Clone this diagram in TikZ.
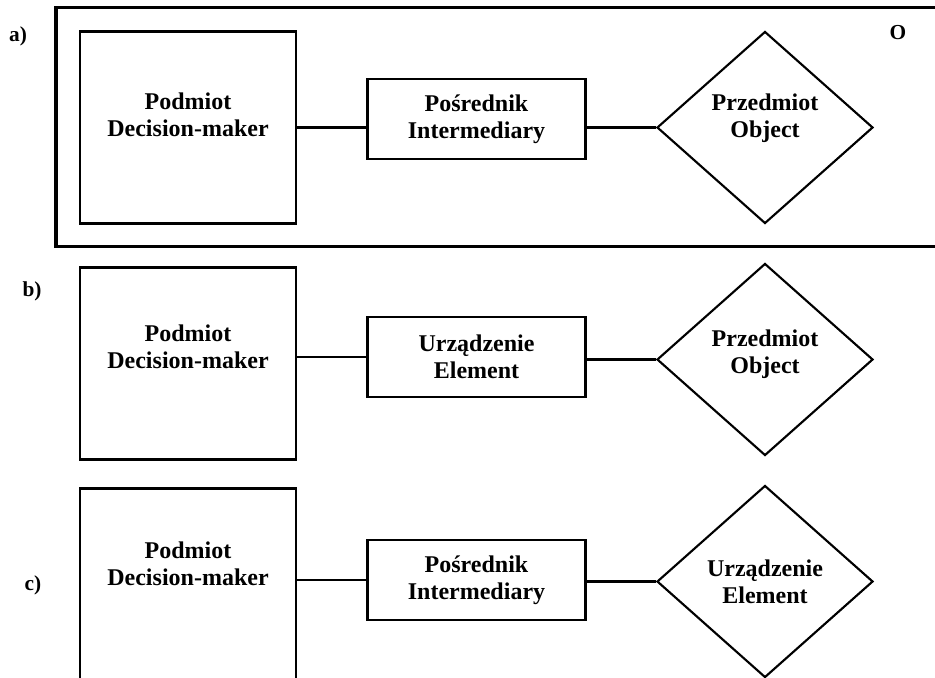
\documentclass[tikz,border=0pt]{standalone}
\usepackage{fontspec}
\setmainfont{Liberation Serif}
\usetikzlibrary{arrows,shapes,positioning}
\begin{document}
\begin{tikzpicture}[x=0.75pt,y=0.75pt]
                    \tikzstyle{every node}+=[inner sep=0pt]
                    \tikzstyle{podmiot}=[draw, line width=2.2pt, minimum width=162pt, minimum height=144pt]
                    \tikzstyle{posrednik}=[draw, line width=2.2pt, minimum width=164pt, minimum height=60pt, align=center, font=\fontsize{18}{20.25}\selectfont\bfseries]
                    \tikzstyle{przedmiot}=[draw, diamond, line width=1.6pt, minimum width=162pt, minimum height=144pt]
                    \tikzstyle{napis}=[align=center, font=\fontsize{18}{20.25}\selectfont\bfseries]
                    \tikzstyle{litera}=[font=\fontsize{16}{18}\selectfont\bfseries]
                    \tikzstyle{linia}=[line width=2.2pt]
                    \useasboundingbox (0,0) rectangle (935,-678);
                    % a)
                    \draw [line width=2.4pt] (56,-7.5) rectangle (940,-246.5);
                    \node [litera] (la) at (18,-36) {a)};
                    \node [litera] (lo) at (898,-32.5) {O};
                    \node [podmiot, label={[napis,yshift=9.4pt]center:{Podmiot\\Decision-maker}}] (pa) at (188,-127.5) {};
                    \node [posrednik] (ia) at (476.5,-119) {Pośrednik\\Intermediary};
                    \node [przedmiot, label={[napis,yshift=7.1pt]center:{Przedmiot\\Object}}] (da) at (765,-127.5) {};
                    \draw [linia] (pa.east) -- (pa.east -| ia.west);
                    \draw [linia] (ia.east |- da.west) -- (da.west);
                    % b)
                    \node [litera] (lb) at (32,-291) {b)};
                    \node [podmiot, label={[napis,yshift=12.4pt]center:{Podmiot\\Decision-maker}}] (pb) at (188,-363.5) {};
                    \node [posrednik] (ib) at (476.5,-357) {Urządzenie\\Element};
                    \node [przedmiot, label={[napis,yshift=4.1pt]center:{Przedmiot\\Object}}] (db) at (765,-359.5) {};
                    \draw [linia] (ib.west -| pb.east) -- (ib.west);
                    \draw [linia] (ib.east |- db.west) -- (db.west);
                    % c)
                    \node [litera] (lc) at (33,-585) {c)};
                    \node [podmiot, label={[napis,yshift=15.4pt]center:{Podmiot\\Decision-maker}}] (pc) at (188,-584.5) {};
                    \node [posrednik] (ic) at (476.5,-580) {Pośrednik\\Intermediary};
                    \node [przedmiot, label={[napis]center:{Urządzenie\\Element}}] (dc) at (765,-581.5) {};
                    \draw [linia] (ic.west -| pc.east) -- (ic.west);
                    \draw [linia] (ic.east |- dc.west) -- (dc.west);
                \end{tikzpicture}
\end{document}
